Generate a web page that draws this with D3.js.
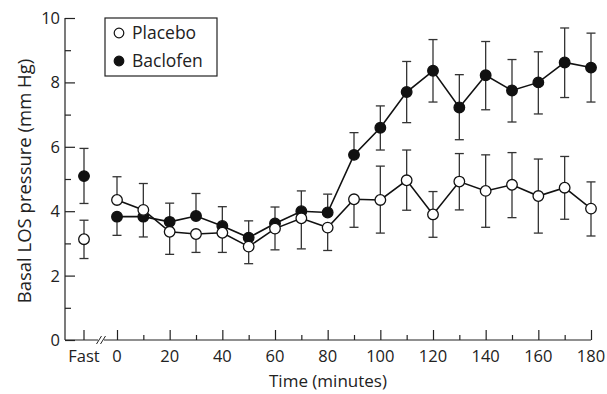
<!DOCTYPE html>
<html>
<head>
<meta charset="utf-8">
<script src="https://cdn.jsdelivr.net/npm/d3@7"></script>
<style>
  body { margin: 0; background: #fff; }
  svg { display: block; font-family: "Open Sans", Lato, sans-serif; }
</style>
</head>
<body>
<svg id="chart" width="607" height="394"></svg>
<script>
// time points (minutes), plus the "Fast" baseline shown left of the break
var times = d3.range(0, 181, 10);
var xTicks = [0, 20, 40, 60, 80, 100, 120, 140, 160, 180];

// placebo: mean, upper and lower error ends (null = bar hidden by the other series)
var placebo   = [4.35, 4.04, 3.36, 3.29, 3.33, 2.90, 3.46, 3.78, 3.49, 4.37, 4.35, 4.96, 3.90, 4.92, 4.63, 4.82, 4.47, 4.73, 4.08];
var placeboHi = [5.07, 4.86, null, null, null, null, null, null, null, null, 5.40, 5.90, 4.61, 5.79, 5.75, 5.82, 5.62, 5.70, 4.91];
var placeboLo = [null, null, 2.66, 2.72, 2.72, 2.37, 2.80, 2.83, 2.78, 3.50, 3.32, 4.03, 3.19, 4.04, 3.50, 3.80, 3.32, 3.75, 3.23];

var baclofen   = [3.83, 3.83, 3.67, 3.85, 3.54, 3.18, 3.62, 4.00, 3.96, 5.75, 6.59, 7.70, 8.36, 7.22, 8.22, 7.75, 8.00, 8.62, 8.46];
var baclofenHi = [null, null, 4.25, 4.55, 4.14, 3.70, 4.13, 4.63, 4.53, 6.44, 7.27, 8.65, 9.33, 8.24, 9.27, 8.71, 8.95, 9.69, 9.53];
var baclofenLo = [3.25, 3.20, null, null, null, null, null, null, null, null, 5.90, 6.75, 7.39, 6.22, 7.15, 6.77, 7.02, 7.53, 7.39];

// fasting values: [mean, lo, hi]
var fastPlacebo = [3.13, 2.53, 3.72];
var fastBaclofen = [5.09, 4.24, 5.95];

var svg = d3.select("#chart");
var padL = 65, padB = 340, padT = 18;
var xFast = 84;
var ink = "#222";

var x = d3.scaleLinear().domain([0, 180]).range([117, 591]);
var y = d3.scaleLinear().domain([0, 10]).range([padB, padT]);

// y axis (ticks point inward)
var yAxis = d3.axisRight(y).tickValues(d3.range(0, 11, 1)).tickSize(10).tickFormat("");
var gy = svg.append("g").attr("transform", "translate(" + padL + ",0)").call(yAxis);
gy.select(".domain").attr("d", "M0," + padT + "V" + padB);
gy.selectAll(".tick line").attr("x2", d => d % 2 ? 6 : 10);
gy.selectAll(".tick line, .domain").attr("stroke", ink).attr("stroke-width", 1.2);

svg.append("g").selectAll("text")
  .data(d3.range(0, 11, 2))
  .enter().append("text")
  .attr("x", padL - 5)
  .attr("y", d => y(d) + 6)
  .attr("text-anchor", "end")
  .attr("font-size", 16.5)
  .attr("fill", ink)
  .text(d => d);

// x axis (ticks point up)
var xAxis = d3.axisTop(x).tickValues(times).tickSize(10).tickFormat("");
var gx = svg.append("g").attr("transform", "translate(0," + padB + ")").call(xAxis);
gx.select(".domain").attr("d", "M" + padL + ",0H" + x(180));
gx.selectAll(".tick line").attr("y2", d => d % 20 ? -5 : -10);
gx.selectAll(".tick line, .domain").attr("stroke", ink).attr("stroke-width", 1.2);
gx.append("line").attr("x1", xFast).attr("x2", xFast).attr("y1", 0).attr("y2", -10)
  .attr("stroke", ink).attr("stroke-width", 1.2);

// axis break
var brk = svg.append("g").attr("transform", "translate(101," + padB + ")");
brk.append("rect").attr("x", -3).attr("y", -1.5).attr("width", 6).attr("height", 3).attr("fill", "#fff");
[-2, 2].forEach(function (dx) {
  brk.append("line").attr("x1", dx - 2.5).attr("y1", 4).attr("x2", dx + 2.5).attr("y2", -4)
    .attr("stroke", ink).attr("stroke-width", 1);
});

svg.append("g").selectAll("text")
  .data(xTicks)
  .enter().append("text")
  .attr("x", d => x(d))
  .attr("y", 362)
  .attr("text-anchor", "middle")
  .attr("font-size", 16.5)
  .attr("fill", ink)
  .text(d => d);
svg.append("text").attr("x", xFast).attr("y", 362).attr("text-anchor", "middle")
  .attr("font-size", 16.5).attr("fill", ink).text("Fast");

// axis titles
svg.append("text")
  .attr("x", 328).attr("y", 387)
  .attr("text-anchor", "middle").attr("font-size", 17).attr("fill", ink)
  .text("Time (minutes)");
svg.append("text")
  .attr("transform", "translate(31,181) rotate(-90)")
  .attr("text-anchor", "middle").attr("font-size", 18.5).attr("fill", ink)
  .text("Basal LOS pressure (mm Hg)");

// error bars
function errBar(g, cx, from, to) {
  g.append("line").attr("x1", cx).attr("x2", cx).attr("y1", y(from)).attr("y2", y(to))
    .attr("stroke", "#333").attr("stroke-width", 1.3);
  g.append("line").attr("x1", cx - 4.5).attr("x2", cx + 4.5).attr("y1", y(to)).attr("y2", y(to))
    .attr("stroke", "#333").attr("stroke-width", 1.3);
}

var bars = svg.append("g");
[[placebo, placeboHi, placeboLo], [baclofen, baclofenHi, baclofenLo]].forEach(function (s) {
  times.forEach(function (t, i) {
    if (s[1][i] != null) errBar(bars, x(t), s[0][i], s[1][i]);
    if (s[2][i] != null) errBar(bars, x(t), s[0][i], s[2][i]);
  });
});
[fastPlacebo, fastBaclofen].forEach(function (f) {
  errBar(bars, xFast, f[0], f[1]);
  errBar(bars, xFast, f[0], f[2]);
});

// lines
var line = d3.line().x((d, i) => x(times[i])).y(d => y(d));
[placebo, baclofen].forEach(function (s) {
  svg.append("path").attr("d", line(s)).attr("fill", "none")
    .attr("stroke", "#111").attr("stroke-width", 1.6);
});

// markers: baclofen first, placebo drawn on top
function dots(data, fill, fast) {
  var g = svg.append("g");
  g.selectAll("circle").data(data).enter().append("circle")
    .attr("cx", (d, i) => x(times[i])).attr("cy", d => y(d)).attr("r", 5.3)
    .attr("fill", fill).attr("stroke", "#111").attr("stroke-width", 1.3);
  g.append("circle").attr("cx", xFast).attr("cy", y(fast[0])).attr("r", 5.3)
    .attr("fill", fill).attr("stroke", "#111").attr("stroke-width", 1.3);
}
dots(baclofen, "#111", fastBaclofen);
dots(placebo, "#fff", fastPlacebo);

// legend
var lg = svg.append("g");
lg.append("rect").attr("x", 105).attr("y", 18).attr("width", 112).attr("height", 58)
  .attr("fill", "#fff").attr("stroke", ink).attr("stroke-width", 1.2);
[["Placebo", "#fff", 33], ["Baclofen", "#111", 61]].forEach(function (l) {
  lg.append("circle").attr("cx", 119).attr("cy", l[2]).attr("r", 4.8)
    .attr("fill", l[1]).attr("stroke", "#111").attr("stroke-width", 1.2);
  lg.append("text").attr("x", 132).attr("y", l[2] + 6).attr("font-size", 17.5).attr("fill", ink)
    .text(l[0]);
});
</script>
</body>
</html>
